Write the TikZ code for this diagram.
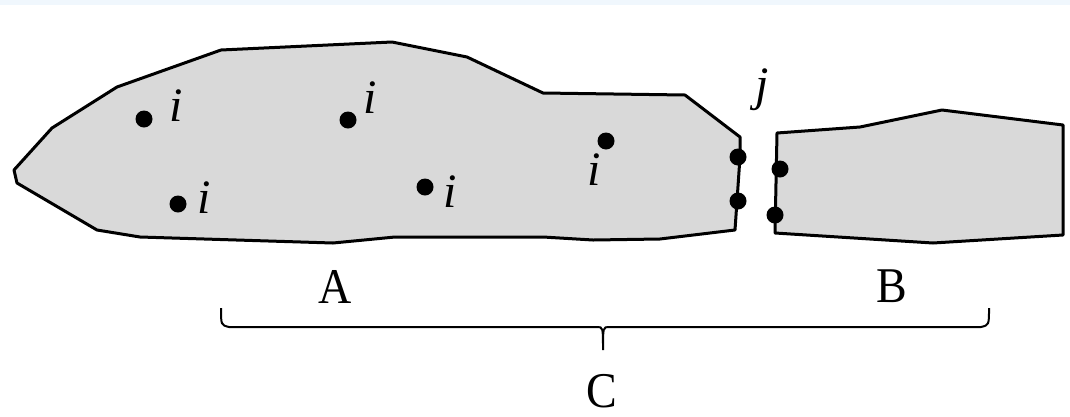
\documentclass[tikz,border=0pt]{standalone}
\usepackage{fontspec}
\setmainfont{Liberation Serif}
\definecolor{bandblue}{RGB}{240,247,253}
\definecolor{shapegray}{RGB}{217,217,217}
\begin{document}
\begin{tikzpicture}[x=1pt,y=-1pt,
  region/.style={fill=shapegray,draw=black,line width=3pt,line join=round},
  pt/.style={circle,fill=black,inner sep=0pt,minimum size=17pt},
  lbl/.style={anchor=base,inner sep=0pt,font=\fontsize{50}{56}\selectfont},
  ilbl/.style={anchor=base,inner sep=0pt,font=\fontsize{48}{54}\selectfont\itshape}]
\useasboundingbox (0,0) rectangle (1070,416);
\fill[bandblue] (0,0) rectangle (1070,5);
% region A
\draw[region] (14,170) -- (52,128) -- (117,87) -- (221,50) -- (392,42) -- (467,57)
  -- (543,93) -- (685,95) -- (740,137) -- (740,157) -- (735,230) -- (660,239)
  -- (593,240) -- (543,237) -- (395,237) -- (333,243) -- (140,237) -- (97,230)
  -- (17,183) -- cycle;
% region B
\draw[region] (777,133) -- (860,127) -- (942,110) -- (1063,125) -- (1063,235)
  -- (933,243) -- (775,233) -- cycle;
% interior points
\node[pt] (p1) at (144,119) {};
\node[pt] (p2) at (348,120) {};
\node[pt] (p3) at (178,204) {};
\node[pt] (p4) at (425,187) {};
\node[pt] (p5) at (606,141) {};
% boundary points
\node[pt] (a1) at (738,157) {};
\node[pt] (a2) at (738,201) {};
\node[pt] (b1) at (780,169) {};
\node[pt] (b2) at (775,215) {};
% labels
\node[ilbl] (i1) at (176,121) {i};
\node[ilbl] (i2) at (370,113) {i};
\node[ilbl] (i3) at (204,213) {i};
\node[ilbl] (i4) at (450,207) {i};
\node[ilbl] (i5) at (594,185) {i};
\node[ilbl] (jl) at (762,100) {j};
\node[lbl,xscale=0.92] (A) at (335,303) {A};
\node[lbl,xscale=0.92] (B) at (892,302) {B};
\node[lbl,xscale=0.92] (C) at (602,407) {C};
% brace
\coordinate (bl) at (221,308);
\coordinate (br) at (989,308);
\coordinate (bm) at (603,350);
\draw[line width=2pt] (bl) .. controls (221,325) .. (229,327) -- (597,327)
  .. controls (603,327) .. (bm) .. controls (603,327) .. (609,327) -- (981,327)
  .. controls (989,325) .. (br);
\end{tikzpicture}
\end{document}
